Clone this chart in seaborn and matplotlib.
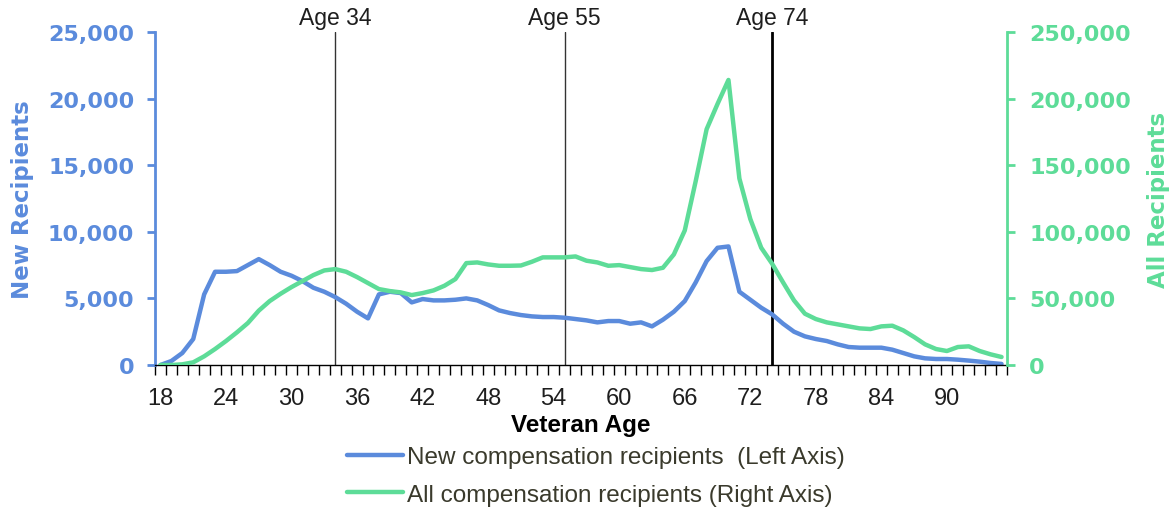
import numpy as np
import pandas as pd
import matplotlib
matplotlib.use("Agg")
import matplotlib.pyplot as plt
import seaborn as sns
from matplotlib.ticker import FuncFormatter, MultipleLocator

# --- adatok: életkor szerint ---
ages = list(range(18, 96))

new_recipients = [
    0, 300, 900, 1950, 5300, 7000, 7000, 7050, 7500, 7950,
    7500, 7000, 6700, 6300, 5800, 5500, 5100, 4600, 4000, 3500,
    5300, 5500, 5400, 4700, 4950, 4850, 4850, 4900, 5000, 4850,
    4500, 4100, 3900, 3750, 3650, 3600, 3600, 3550, 3450, 3350,
    3200, 3300, 3300, 3100, 3200, 2900, 3400, 4000, 4800, 6200,
    7800, 8800, 8900, 5500, 4900, 4300, 3800, 3100, 2500, 2150,
    1950, 1800, 1550, 1350, 1300, 1300, 1300, 1150, 900, 650,
    500, 450, 450, 400, 330, 250, 150, 80,
]

all_recipients = [
    0, 0, 500, 2000, 6500, 12000, 18000, 24500, 31500, 40800,
    48000, 53500, 58500, 63000, 67500, 71000, 72000, 70000, 66000, 61500,
    57000, 55500, 54500, 52500, 54000, 56000, 59500, 64500, 76500, 77000,
    75500, 74500, 74500, 74700, 77500, 80800, 80800, 80800, 81500, 78300,
    77000, 74500, 75000, 73500, 72000, 71300, 73000, 83000, 101000, 138000,
    177000, 196000, 214000, 140000, 109600, 88000, 76000, 62000, 48500, 38500,
    34500, 32000, 30500, 29000, 27500, 27000, 29000, 29500, 26000, 21000,
    15500, 12000, 10500, 13500, 14000, 10500, 8000, 6000,
]

marker_ages = [34, 55, 74]
label_ages = list(range(18, 91, 6))

df = pd.DataFrame({"age": ages, "new": new_recipients, "all": all_recipients})

BLUE = "#5B8BDC"
GREEN = "#5DDC98"
TXT = "#3a3a2c"

sns.set_style("white")
plt.rcParams["font.family"] = ["Liberation Sans", "DejaVu Sans"]

fig = plt.figure(figsize=(11.76, 5.10), dpi=100)
ax = fig.add_axes([155 / 1176, 1 - 366 / 510, 852 / 1176, 333 / 510])
ax2 = ax.twinx()

sns.lineplot(data=df, x="age", y="new", ax=ax, color=BLUE, linewidth=3.2,
             label="New compensation recipients  (Left Axis)", legend=False)
sns.lineplot(data=df, x="age", y="all", ax=ax2, color=GREEN, linewidth=3.2,
             label="All compensation recipients (Right Axis)", legend=False)

# --- függőleges jelölővonalak ---
for a in marker_ages:
    lw = 2.0 if a == 74 else 1.0
    col = "black" if a == 74 else "#333333"
    ax.axvline(a, color=col, linewidth=lw, zorder=1)
    ax.text(a, 1.01, f"Age {a}", transform=ax.get_xaxis_transform(),
            ha="center", va="bottom", fontsize=16.5, color="#1e1e1e")

ax.set_xlim(17.5, 95.5)
ax.set_ylim(0, 25000)
ax2.set_ylim(0, 250000)

fmt = FuncFormatter(lambda v, p: f"{int(v):,}")
ax.yaxis.set_major_locator(MultipleLocator(5000))
ax2.yaxis.set_major_locator(MultipleLocator(50000))
ax.yaxis.set_major_formatter(fmt)
ax2.yaxis.set_major_formatter(fmt)

ax.set_xticks(label_ages)
ax.set_xticks(np.arange(17.5, 96, 1), minor=True)
ax.tick_params(axis="x", which="major", bottom=True, length=0, pad=16,
               labelsize=17, labelcolor="#1e1e1e")
ax.tick_params(axis="x", which="minor", bottom=True, length=7, width=1,
               color="black", direction="out")

ax.tick_params(axis="y", length=6, width=2, color=BLUE, labelcolor=BLUE,
               pad=9, left=True)
ax2.tick_params(axis="y", length=6, width=2, color=GREEN, labelcolor=GREEN,
                pad=10, right=True)

ax.spines["top"].set_visible(False)
ax2.spines["top"].set_visible(False)
ax2.spines["left"].set_visible(False)
ax2.spines["bottom"].set_visible(False)
ax.spines["right"].set_visible(False)
ax.spines["left"].set_color(BLUE)
ax.spines["left"].set_linewidth(2)
ax2.spines["right"].set_color(GREEN)
ax2.spines["right"].set_linewidth(2)
ax.spines["bottom"].set_color("black")
ax.spines["bottom"].set_linewidth(1)

ax.set_xlabel("Veteran Age", fontsize=17.5, fontweight="bold", color="black", labelpad=3)
ax.set_ylabel("New Recipients", fontsize=16.5, fontweight="bold", color=BLUE,
              family="DejaVu Sans", labelpad=10)
ax2.set_ylabel("All Recipients", fontsize=16.5, fontweight="bold", color=GREEN,
               family="DejaVu Sans", labelpad=11, rotation=90)

# --- y tengely feliratok: vastag, széles betű ---
fig.canvas.draw()
for t in ax.get_yticklabels() + ax2.get_yticklabels():
    t.set_family("DejaVu Sans")
    t.set_fontweight("bold")
    t.set_fontsize(16)

h1, l1 = ax.get_legend_handles_labels()
h2, l2 = ax2.get_legend_handles_labels()
fig.legend(h1 + h2, l1 + l2, loc="upper left", bbox_to_anchor=(347 / 1176, 1 - 447 / 510),
           frameon=False, fontsize=17.5, labelcolor=TXT, handlelength=2.3,
           handletextpad=0.15, labelspacing=0.65, borderaxespad=0,
           borderpad=0)

fig.savefig("out.png", dpi=100)
